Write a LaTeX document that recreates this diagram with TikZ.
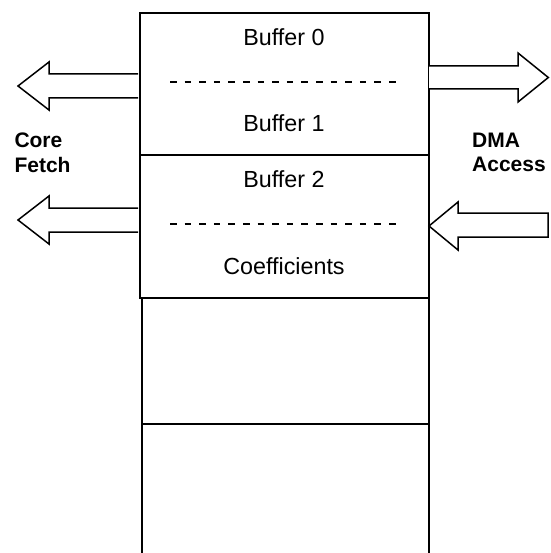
\documentclass[tikz,border=0pt]{standalone}
\usepackage{fontspec}
\setmainfont{Liberation Sans}
\begin{document}
\begin{tikzpicture}[x=1pt,y=-1pt,
  boxline/.style={draw=black,line width=1.8pt},
  blockarrow/.style={draw=black,line width=1.5pt,fill=white,line join=miter},
  sep/.style={draw=black,line width=1.8pt,dash pattern=on 6.6pt off 8pt},
  label/.style={inner sep=0pt,font=\fontsize{23.3}{28}\selectfont},
  side/.style={inner sep=0pt,align=left,font=\fontsize{21}{24.3}\selectfont\bfseries}]
\useasboundingbox (0,0) rectangle (550,553);
% upper box (two halves)
\node[boxline,anchor=north west,minimum width=289pt,minimum height=142pt,inner sep=0pt] (top) at (139,12) {};
\node[boxline,anchor=north west,minimum width=289pt,minimum height=143pt,inner sep=0pt] (mid) at (139,154) {};
% lower boxes (open below)
\node[boxline,anchor=north west,minimum width=287pt,minimum height=126pt,inner sep=0pt] (low1) at (141,297) {};
\node[boxline,anchor=north west,minimum width=287pt,minimum height=140pt,inner sep=0pt] (low2) at (141,423) {};
% dashed separators
\coordinate (d1a) at (170,82); \coordinate (d1b) at (400,82);
\coordinate (d2a) at (170,224); \coordinate (d2b) at (400,224);
\draw[sep] (d1a) -- (d1b);
\draw[sep] (d2a) -- (d2b);
% labels
\node[label,anchor=base] (b0) at (284,46) {Buffer 0};
\node[label,anchor=base] (b1) at (284,131.5) {Buffer 1};
\node[label,anchor=base] (b2) at (284,187.5) {Buffer 2};
\node[label,anchor=base] (co) at (284,274) {Coefficients};
\node[side,anchor=north west] (core) at (14.3,133) {Core\\Fetch};
\node[side,anchor=north west] (dma) at (472,133) {DMA\\Access};
% block arrows
\draw[blockarrow] (138,74) -- (49,74) -- (49,62) -- (18,86) -- (49,110) -- (49,98) -- (138,98);
\draw[blockarrow] (138,208) -- (49,208) -- (49,196) -- (18,220) -- (49,244) -- (49,232) -- (138,232);
\draw[blockarrow] (429,66) -- (518,66) -- (518,53) -- (548.3,77.5) -- (518,102) -- (518,89) -- (429,89);
\draw[blockarrow] (548,213) -- (458,213) -- (458,202) -- (429,226) -- (458,250) -- (458,237) -- (548,237) -- cycle;
\end{tikzpicture}
\end{document}
